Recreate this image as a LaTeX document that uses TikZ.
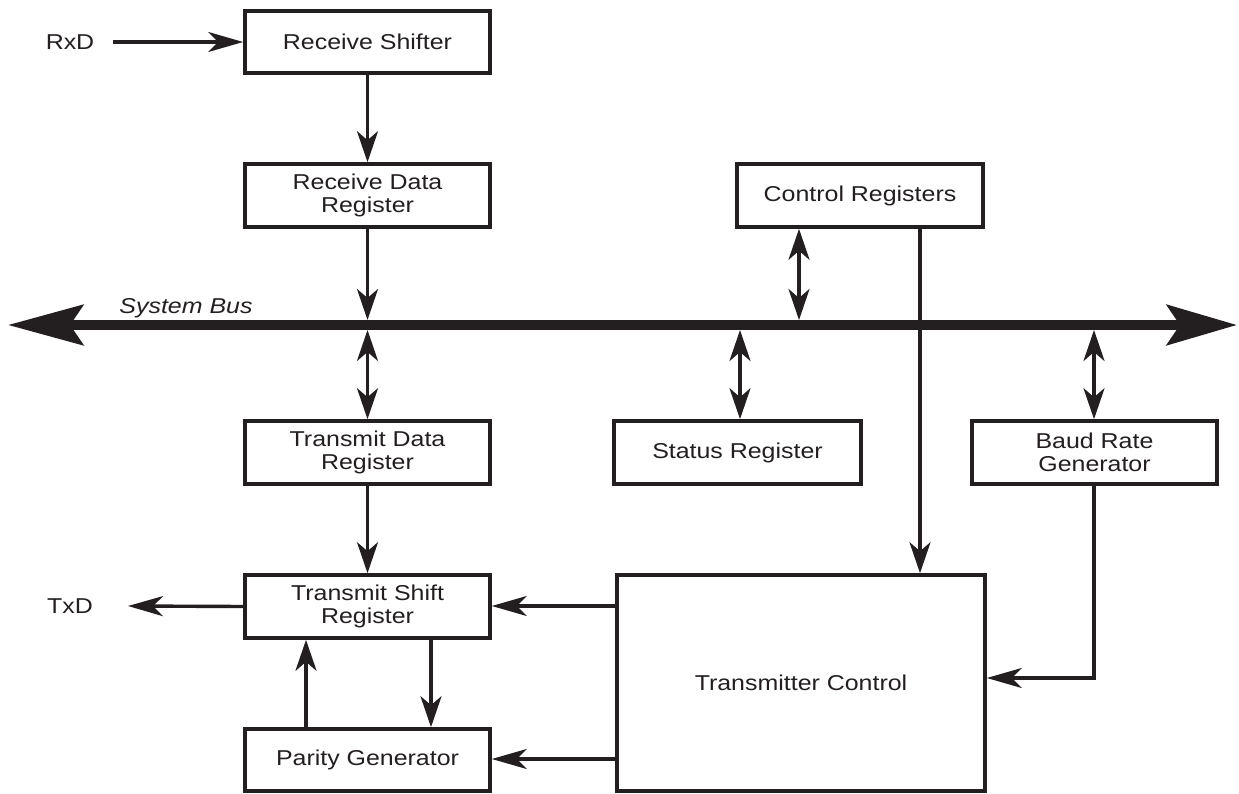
\documentclass[tikz,border=0pt]{standalone}
\usepackage{fontspec}
\setmainfont{Liberation Sans}[FakeStretch=1.16]
\usetikzlibrary{arrows.meta}
\definecolor{ink}{RGB}{35,31,32}
\begin{document}
\begin{tikzpicture}[x=1pt,y=-1pt,
  box/.style={draw=ink, line width=3.6pt, fill=white, inner sep=0pt, align=center,
    font=\fontsize{21.5pt}{23pt}\selectfont, text=ink},
  lbl/.style={font=\fontsize{21.5pt}{23pt}\selectfont, text=ink, inner sep=0pt},
  wire/.style={draw=ink, line width=3.4pt},
  vtip/.tip={Stealth[length=31pt, width=21pt, inset=9pt]},
  htip/.tip={Stealth[length=35pt, width=20pt, inset=10pt]},
  down/.style={wire, -vtip},
  both/.style={wire, vtip-vtip},
  left/.style={wire, -htip},
]
\useasboundingbox (0,0) rectangle (1239,794);

% boxes
\node[box, minimum width=245pt, minimum height=62pt] (rs)  at (367.5,42) {Receive Shifter};
\node[box, minimum width=245pt, minimum height=63pt] (rdr) at (367.5,195.5) {Receive Data\\Register};
\node[box, minimum width=246pt, minimum height=63pt] (cr)  at (860,195.5) {Control Registers};
\node[box, minimum width=245pt, minimum height=63pt] (tdr) at (367.5,452.5) {Transmit Data\\Register};
\node[box, minimum width=247pt, minimum height=63pt] (sr)  at (737.5,452.5) {Status Register};
\node[box, minimum width=245pt, minimum height=63pt] (brg) at (1094.5,452.5) {Baud Rate\\Generator};
\node[box, minimum width=245pt, minimum height=63pt] (tsr) at (367.5,606.5) {Transmit Shift\\Register};
\node[box, minimum width=245pt, minimum height=62pt] (pg)  at (367.5,760) {Parity Generator};
\node[box, minimum width=368pt, minimum height=216pt] (tc) at (801,683) {Transmitter Control};

% labels
\node[lbl] (rxd) at (70,42) {RxD};
\node[lbl] (txd) at (70,606) {TxD};
\node[lbl, font=\fontsize{21.5pt}{23pt}\selectfont\itshape] (sb) at (186,308) {System Bus};

% bus
\coordinate (busL) at (8,325);
\coordinate (busR) at (1237,325);
\coordinate (busT) at (0,320);
\coordinate (busB) at (0,330);
\draw[draw=ink, line width=10pt,
  {Stealth[length=75pt, width=40pt, inset=13pt]}-{Stealth[length=70pt, width=40pt, inset=13pt]}]
  (busL) -- (busR);

% receive path
\coordinate (rxs) at (113,42);
\draw[wire, -htip] (rxs) -- (rs.west);
\draw[down] (rs.south) -- (rdr.north);
\draw[down] (rdr.south) -- (rdr.south |- busT);

% bus to blocks
\draw[both] (tdr.north |- busB) -- (tdr.north);
\coordinate (crb) at (799,0);
\draw[both] (crb |- cr.south) -- (crb |- busT);
\coordinate (srx) at (740,0);
\draw[both] (srx |- busB) -- (srx |- sr.north);
\coordinate (brx) at (1094,0);
\draw[both] (brx |- busB) -- (brx |- brg.north);

% control line
\coordinate (crx) at (920,0);
\draw[down] (crx |- cr.south) -- (crx |- tc.north);

% baud rate to transmitter control
\coordinate (brk) at (1094,678);
\draw[wire, -htip] (brx |- brg.south) -- (brk) -- (brk -| tc.east);

% transmit path
\draw[down] (tdr.south) -- (tsr.north);
\coordinate (txe) at (128,606);
\draw[left] (tsr.west) -- (txe);
\coordinate (tcy1) at (0,606);
\draw[left] (tc.west |- tcy1) -- (tsr.east |- tcy1);
\coordinate (tcy2) at (0,759);
\draw[left] (tc.west |- tcy2) -- (pg.east |- tcy2);
\coordinate (upx) at (306,0);
\draw[down] (upx |- pg.north) -- (upx |- tsr.south);
\coordinate (dnx) at (431,0);
\draw[down] (dnx |- tsr.south) -- (dnx |- pg.north);
\end{tikzpicture}
\end{document}
